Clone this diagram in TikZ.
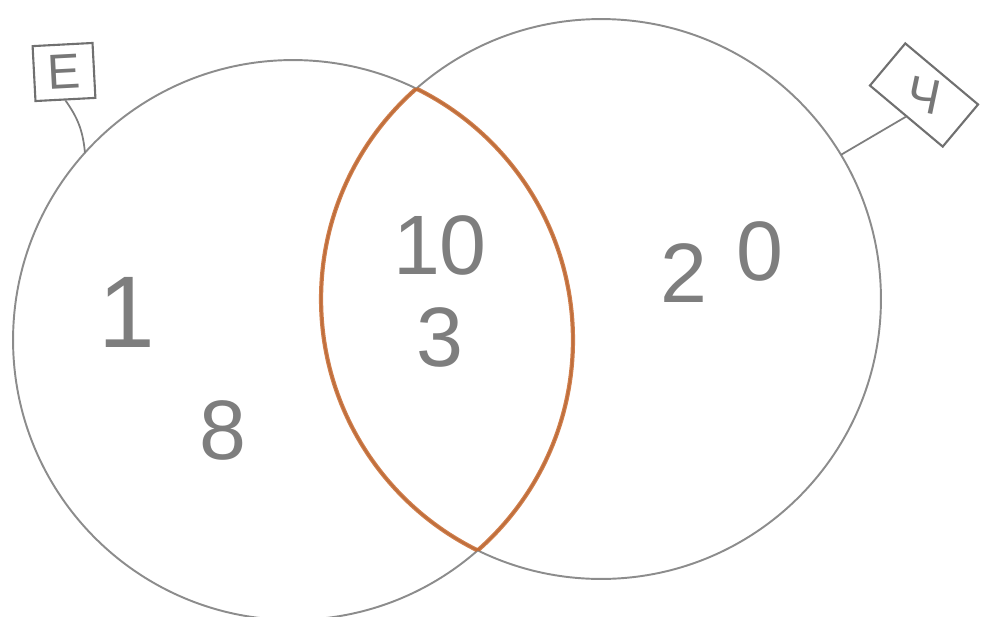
\documentclass[tikz,border=0pt]{standalone}
\usepackage{fontspec}
\setmainfont{Liberation Sans}
\usetikzlibrary{positioning}
\definecolor{pencil}{HTML}{8C8C8C}
\definecolor{crayon}{HTML}{C8692E}
\tikzset{
  venn-set/.style={circle, draw=pencil, line width=1.1pt, minimum size=11.2cm,
    inner sep=0pt, outer sep=0pt},
  venn-lens/.style={draw=crayon, line width=2.4pt, opacity=0.85},
  venn-tag/.style={draw=pencil!80!black, line width=1.2pt, inner sep=0pt,
    text=pencil!85!black, font=\fontsize{28}{28}\selectfont},
  venn-num/.style={text=pencil!90!black, font=\fontsize{48}{48}\selectfont},
  venn-link/.style={draw=pencil!90!black, line width=1pt}
}

\begin{document}
\begin{tikzpicture}[x=0.02cm, y=-0.02cm]
  \useasboundingbox (0,0) rectangle (990,616);

  % the two sets
  \node[venn-set] (E) at (293,340) {};
  \node[venn-set] (H) at (601,299) {};

  % coloured lens
  \begin{scope}
    \clip (E.center) circle[radius=5.6cm];
    \draw[venn-lens] (H.center) circle[radius=5.6cm];
  \end{scope}
  \begin{scope}
    \clip (H.center) circle[radius=5.6cm];
    \draw[venn-lens] (E.center) circle[radius=5.6cm];
  \end{scope}

  % tags
  \node[venn-tag, minimum width=1.2cm, minimum height=1.1cm, rotate=3] (tagE) at (64,72) {E};
  \node[venn-tag, minimum width=1.9cm, minimum height=1.1cm, rotate=-40] (tagH) at (924,95) {\rotatebox{28}{Ч}};
  \draw[venn-link] (tagE.south) to[bend left=15] (E.138);
  \draw[venn-link] (tagH.south) -- (H.31);

  % counts
  \node[venn-num, font=\fontsize{58}{58}\selectfont] (n1) at (127,312) {1};
  \node[venn-num] (n8) at (223,430) {8};
  \node[venn-num] (n10) at (440,245) {10};
  \node[venn-num] (n3) at (440,337) {3};
  \node[venn-num] (n20) at (722,262) {2\hspace{0.35em}\raisebox{0.5ex}{0}};
\end{tikzpicture}
\end{document}
